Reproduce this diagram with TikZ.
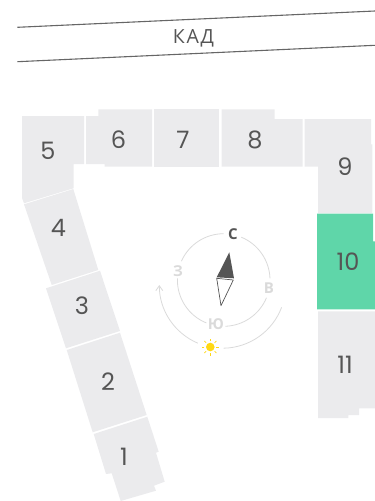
\documentclass[tikz,border=0pt]{standalone}
\usepackage{fontspec}
\setmainfont{Poppins}
\newfontfamily\kadfont[LetterSpace=9]{Open Sans}
\newfontfamily\compfont{Open Sans}
\usetikzlibrary{arrows.meta}
\definecolor{blockgray}{HTML}{EBEBED}
\definecolor{blockgreen}{HTML}{5FD6A9}
\definecolor{labelgray}{HTML}{555555}
\definecolor{ringgray}{HTML}{DADADA}
\definecolor{sunyellow}{HTML}{FFD814}
\tikzset{
  block/.style={fill=blockgray,draw=none},
  num/.style={text=labelgray,inner sep=0pt,font=\fontsize{24}{24}\selectfont},
  dir/.style={text=ringgray,inner sep=0pt,font=\compfont\bfseries\fontsize{15}{15}\selectfont},
  ring/.style={draw=ringgray,line width=0.8pt},
  road/.style={draw=black!60,line width=1.1pt}
}
\begin{document}
\begin{tikzpicture}[x=1pt,y=1pt,yscale=-1]
\useasboundingbox (0,0) rectangle (375,501);
% road
\draw[road] (17.3,27.3) -- (375,11);
\draw[road] (17.3,61.7) -- (375,45.3);
\node[inner sep=0pt,text=labelgray,font=\kadfont\fontsize{19.5}{19.5}\selectfont] (kad) at (193.5,38) {КАД};
% blocks
\fill[block] (22,116) -- (84,116) -- (84,164) -- (73.5,164) -- (73.5,188.3) -- (24,203.3) -- (22,198) -- cycle;
\fill[block] (86,116) -- (98.3,116) -- (98.3,109.3) -- (152,109.3) -- (152,166.7) -- (104.7,166.7) -- (104.7,164) -- (86,164) -- cycle;
\fill[block] (153.7,109.3) -- (219.3,109.3) -- (219.3,166.7) -- (153.7,166.7) -- cycle;
\fill[block] (221.7,109.3) -- (274.7,109.3) -- (274.7,119) -- (302.7,119) -- (302.7,166.7) -- (221.7,166.7) -- cycle;
\fill[block] (304.7,119) -- (371,119) -- (371,144.3) -- (372.3,144.3) -- (372.3,213) -- (318,213) -- (318,166.7) -- (304.7,166.7) -- cycle;
\fill[blockgreen] (317,213.7) -- (373,213.7) -- (373,241.3) -- (375,241.3) -- (375,309.3) -- (317,309.3) -- cycle;
\fill[block] (318,311.3) -- (375,311.3) -- (375,408.3) -- (359,408.3) -- (359,415) -- (348.3,415) -- (348.3,418) -- (318,418) -- cycle;
\fill[block] (24,204.3) -- (73.3,189) -- (98.3,270) -- (51.7,285) -- cycle;
\fill[block] (46,288.3) -- (100,270.7) -- (120,331) -- (66,348.3) -- cycle;
\fill[block] (66.7,350) -- (120,332.7) -- (146.7,415) -- (92.7,432.3) -- cycle;
\fill[block] (93.7,434) -- (147.3,416.7) -- (158.7,451.7) -- (156,452.7) -- (164.7,481.7) -- (154,485.7) -- (156,490.7) -- (120.7,501) -- (111.7,473.3) -- (106,474) -- cycle;
% numbers
\node[num] (n1) at (124,457) {1};
\node[num] (n2) at (108,382) {2};
\node[num] (n3) at (82,306) {3};
\node[num] (n4) at (58.5,228) {4};
\node[num] (n5) at (48,151) {5};
\node[num] (n6) at (118.5,140) {6};
\node[num] (n7) at (183,140) {7};
\node[num] (n8) at (255,140) {8};
\node[num] (n9) at (345,167) {9};
\node[num] (n10) at (348,262) {10};
\node[num] (n11) at (345,365) {11};
% compass ring
\coordinate (cc) at (223.7,280);
\draw[ring] (223.7,280) ++(-67.7:46.3) arc (-67.7:-2:46.3);
\draw[ring] (223.7,280) ++(22.6:46.3) arc (22.6:88:46.3);
\draw[ring] (223.7,280) ++(112:46.3) arc (112:182:46.3);
\draw[ring] (223.7,280) ++(204:46.3) arc (204:270:46.3);
\node[dir,text=labelgray] (north) at (233,234) {С};
\node[dir] (west) at (178,271) {З};
\node[dir] (east) at (269,288) {В};
\node[dir] (south) at (216,324) {Ю};
% sun path
\draw[ring] (222.5,285) ++(20.7:63.2) arc (20.7:89:63.2);
\draw[ring,-{Straight Barb[length=5pt,width=7pt]}] (222.5,285) ++(113:63.2) arc (113:180:63.2);
% needle
\fill[labelgray] (229.3,252.3) -- (216.7,277.3) -- (234,278.3) -- cycle;
\draw[labelgray,line width=0.7pt,fill=white,line join=round] (216.7,278.3) -- (233.3,280) -- (221,305.7) -- cycle;
% sun
\fill[sunyellow] (210.3,347) circle (4.3);
\foreach \a in {0,45,...,315}
  \draw[sunyellow,line width=0.7pt] (210.3,347) ++(\a:6) -- ++(\a:2.5);
\end{tikzpicture}
\end{document}
